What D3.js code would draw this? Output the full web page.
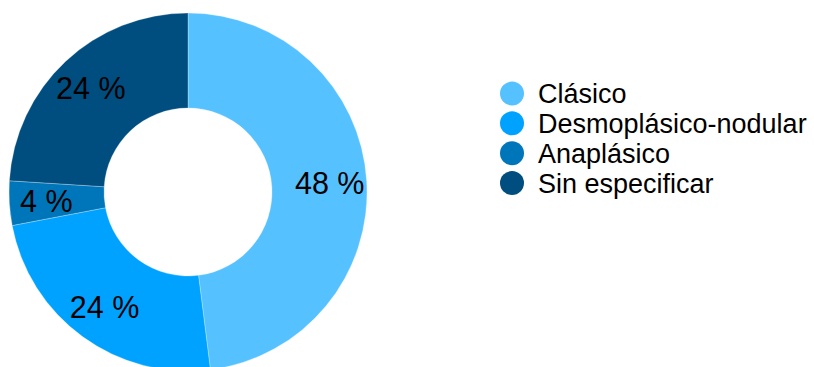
<!DOCTYPE html>
<html>
<head>
<meta charset="utf-8">
<script src="https://cdn.jsdelivr.net/npm/d3@7"></script>
<style>
  html, body { margin: 0; padding: 0; background: #fff; }
  svg { display: block; font-family: "Liberation Sans", Arial, Helvetica, sans-serif; }
</style>
</head>
<body>
<svg id="chart" width="814" height="367"></svg>
<script>
// Subtipos histológicos
const categories = ["Clásico", "Desmoplásico-nodular", "Anaplásico", "Sin especificar"];
const values = [48, 24, 4, 24];
const colors = ["#56C1FF", "#00A2FF", "#0076BA", "#004D80"];

const svg = d3.select("#chart");
const cx = 188, cy = 192;
const outerR = 179, innerR = 84, labelR = 142;

const pie = d3.pie().sort(null).value(d => d.value);
const arcs = pie(categories.map((c, i) => ({ name: c, value: values[i] })));

const arc = d3.arc().innerRadius(innerR).outerRadius(outerR);
const labelArc = d3.arc().innerRadius(labelR).outerRadius(labelR);

const g = svg.append("g").attr("transform", `translate(${cx},${cy})`);

g.selectAll("path")
  .data(arcs)
  .join("path")
  .attr("d", arc)
  .attr("fill", (d, i) => colors[i])
  .attr("stroke", "#ffffff")
  .attr("stroke-opacity", 0.35)
  .attr("stroke-width", 0.8);

const labelSize = 30.5;
g.selectAll("text.value")
  .data(arcs)
  .join("text")
  .attr("class", "value")
  .attr("x", d => labelArc.centroid(d)[0])
  .attr("y", d => labelArc.centroid(d)[1] + labelSize * 0.358)
  .attr("text-anchor", "middle")
  .attr("font-size", labelSize)
  .attr("fill", "#000")
  .text(d => `${d.data.value} %`);

// Leyenda
const legendSize = 27;
const legend = svg.append("g");
const rowY = d3.scalePoint().domain(categories).range([93.5, 183]);

const rows = legend.selectAll("g")
  .data(categories)
  .join("g")
  .attr("transform", d => `translate(0,${rowY(d)})`);

rows.append("circle")
  .attr("cx", 512)
  .attr("cy", 0)
  .attr("r", 12)
  .attr("fill", (d, i) => colors[i]);

rows.append("text")
  .attr("x", 538)
  .attr("y", legendSize * 0.358)
  .attr("font-size", legendSize)
  .attr("fill", "#000")
  .text(d => d);
</script>
</body>
</html>
